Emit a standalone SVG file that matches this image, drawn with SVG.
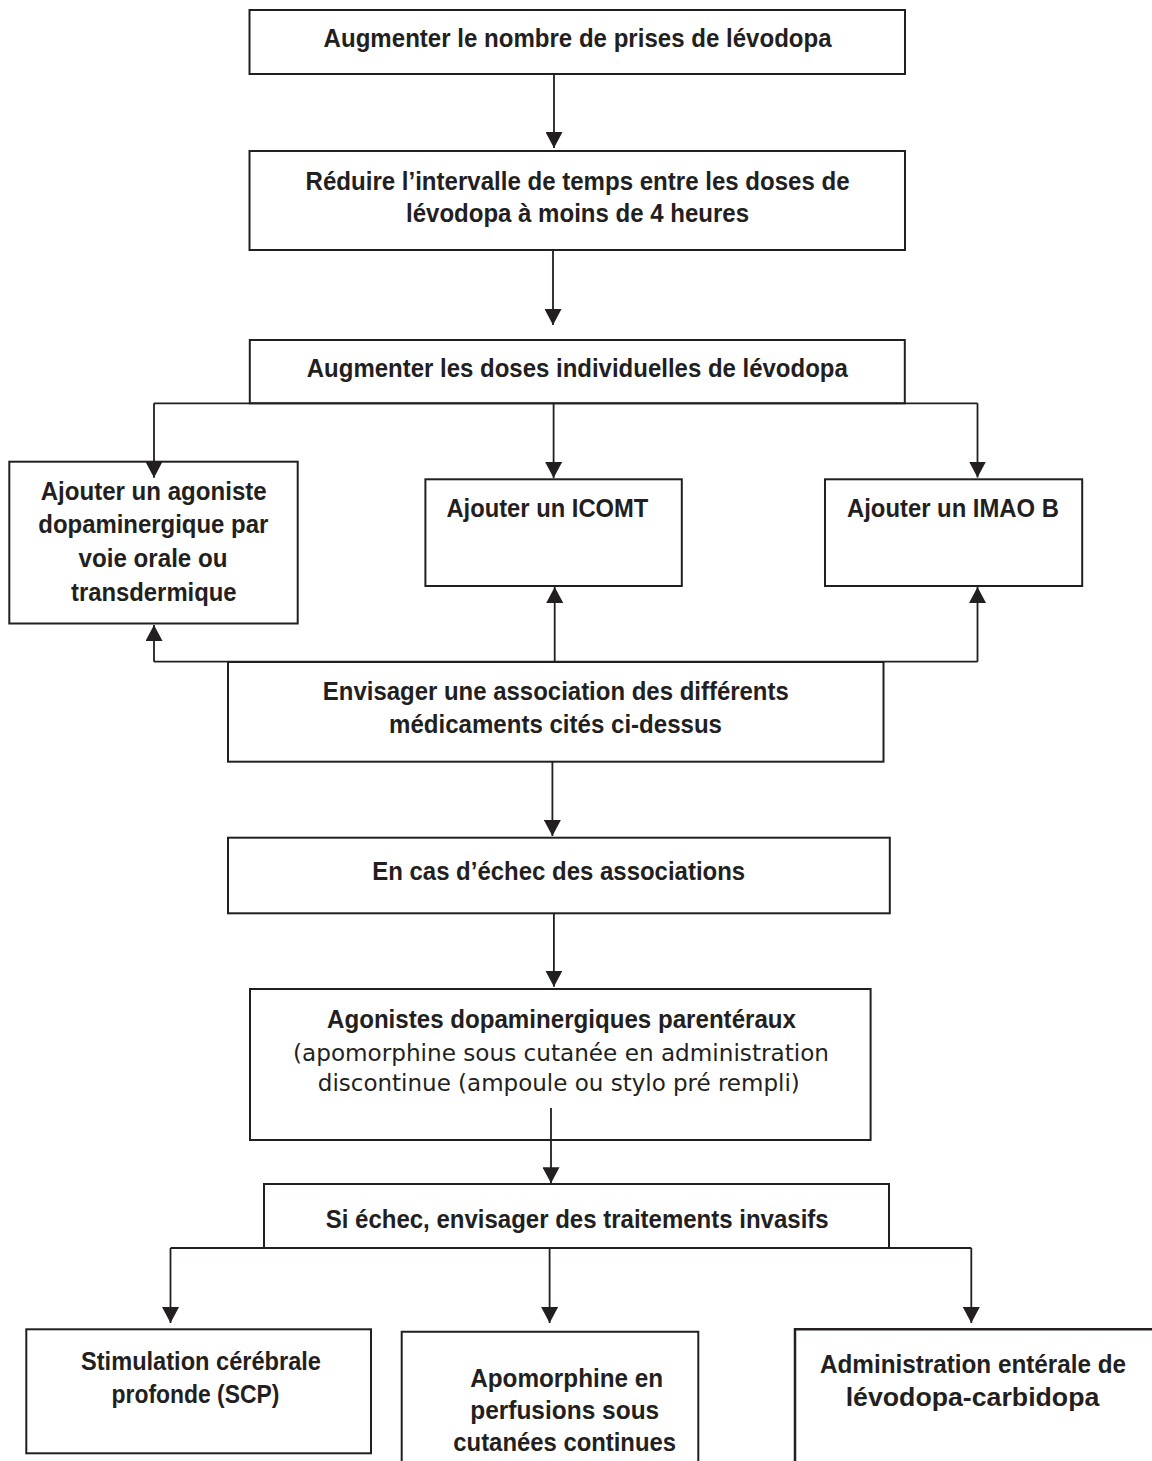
<svg xmlns="http://www.w3.org/2000/svg" width="1152" height="1461" viewBox="0 0 1152 1461">
<defs>
<style>
.box{fill:#fff;stroke:#231f20;stroke-width:2}
.open{fill:none;stroke:#231f20;stroke-width:2}
.ln{fill:none;stroke:#231f20;stroke-width:1.8}
.ar{fill:none;stroke:#231f20;stroke-width:1.8;marker-end:url(#ah)}
.t{font-family:"Liberation Sans Narrow","Liberation Sans",Arial,sans-serif;font-weight:bold;font-size:25px;fill:#231f20;text-anchor:middle}
.r{font-family:"DejaVu Sans Condensed","DejaVu Sans",Tahoma,sans-serif;font-weight:normal;font-size:23.5px;fill:#231f20;text-anchor:middle}
</style>
<marker id="ah" markerUnits="userSpaceOnUse" markerWidth="17" markerHeight="17" viewBox="0 0 17 17" refX="16" refY="8.5" orient="auto">
<path d="M0,0 L16,8.5 L0,17 Z" fill="#231f20"/>
</marker>
</defs>
<rect width="1152" height="1461" fill="#fff"/>

<g id="n1">
<rect class="box" x="249.5" y="10" width="655.5" height="64"/>
<text class="t" x="577.6" y="47" textLength="508" lengthAdjust="spacingAndGlyphs">Augmenter le nombre de prises de lévodopa</text>
</g>

<g id="n2">
<rect class="box" x="249.5" y="151" width="655.5" height="99"/>
<text class="t" x="577.6" y="190" textLength="544" lengthAdjust="spacingAndGlyphs">Réduire l’intervalle de temps entre les doses de</text>
<text class="t" x="577.5" y="221.7" textLength="343" lengthAdjust="spacingAndGlyphs">lévodopa à moins de 4 heures</text>
</g>

<g id="n3">
<rect class="box" x="249.8" y="340" width="655" height="63.3"/>
<text class="t" x="577.3" y="376.7" textLength="541" lengthAdjust="spacingAndGlyphs">Augmenter les doses individuelles de lévodopa</text>
</g>

<g id="n4">
<rect class="box" x="9.3" y="461.7" width="288.4" height="161.8"/>
<text class="t" x="153.7" y="500" textLength="226" lengthAdjust="spacingAndGlyphs">Ajouter un agoniste</text>
<text class="t" x="153.3" y="533.3" textLength="230" lengthAdjust="spacingAndGlyphs">dopaminergique par</text>
<text class="t" x="153" y="566.7" textLength="149" lengthAdjust="spacingAndGlyphs">voie orale ou</text>
<text class="t" x="153.8" y="600.7" textLength="165.7" lengthAdjust="spacingAndGlyphs">transdermique</text>
</g>

<g id="n5">
<rect class="box" x="425.4" y="479.3" width="256.4" height="106.7"/>
<text class="t" x="547.4" y="516.7" textLength="202" lengthAdjust="spacingAndGlyphs">Ajouter un ICOMT</text>
</g>

<g id="n6">
<rect class="box" x="825" y="479.3" width="257.2" height="106.7"/>
<text class="t" x="953" y="516.7" textLength="212" lengthAdjust="spacingAndGlyphs">Ajouter un IMAO B</text>
</g>

<g id="n7">
<rect class="box" x="228" y="662" width="655.5" height="99.7"/>
<text class="t" x="555.8" y="700" textLength="466" lengthAdjust="spacingAndGlyphs">Envisager une association des différents</text>
<text class="t" x="555.5" y="732.7" textLength="333" lengthAdjust="spacingAndGlyphs">médicaments cités ci-dessus</text>
</g>

<g id="n8">
<rect class="box" x="228" y="837.7" width="661.8" height="75.6"/>
<text class="t" x="558.7" y="880" textLength="373" lengthAdjust="spacingAndGlyphs">En cas d’échec des associations</text>
</g>

<g id="n9">
<rect class="box" x="250" y="989" width="620.6" height="151"/>
<text class="t" x="561.5" y="1027.7" textLength="469" lengthAdjust="spacingAndGlyphs">Agonistes dopaminergiques parentéraux</text>
<text class="r" x="561" y="1061" textLength="536" lengthAdjust="spacingAndGlyphs">(apomorphine sous cutanée en administration</text>
<text class="r" x="558.8" y="1091" textLength="482" lengthAdjust="spacingAndGlyphs">discontinue (ampoule ou stylo pré rempli)</text>
</g>

<g id="n10">
<rect class="box" x="264" y="1184" width="625" height="64"/>
<text class="t" x="577.2" y="1228.3" textLength="503" lengthAdjust="spacingAndGlyphs">Si échec, envisager des traitements invasifs</text>
</g>

<g id="n11">
<rect class="box" x="26.3" y="1329.3" width="344.7" height="124"/>
<text class="t" x="201" y="1370" textLength="240" lengthAdjust="spacingAndGlyphs">Stimulation cérébrale</text>
<text class="t" x="195.5" y="1402.7" textLength="168" lengthAdjust="spacingAndGlyphs">profonde (SCP)</text>
</g>

<g id="n12">
<path class="open" d="M401.7,1461 V1331.7 H698.3 V1461"/>
<text class="t" x="566.7" y="1386.7" textLength="193" lengthAdjust="spacingAndGlyphs">Apomorphine en</text>
<text class="t" x="564.7" y="1419" textLength="189" lengthAdjust="spacingAndGlyphs">perfusions sous</text>
<text class="t" x="564.7" y="1451" textLength="222.7" lengthAdjust="spacingAndGlyphs">cutanées continues</text>
</g>

<g id="n13">
<path class="open" d="M795,1461 V1329.3 H1152" style="stroke-width:2.5"/>
<text class="t" x="973" y="1373.3" textLength="306" lengthAdjust="spacingAndGlyphs">Administration entérale de</text>
<text class="t" x="972.5" y="1406" textLength="253.7" lengthAdjust="spacingAndGlyphs">lévodopa-carbidopa</text>
</g>

<g id="connectors">
<path class="ar" d="M554,74 V148"/>
<path class="ar" d="M553,250 V325"/>
<path class="ln" d="M154,403.3 H977.5"/>
<path class="ar" d="M154,403.3 V477.7"/>
<path class="ar" d="M553.6,403.3 V478"/>
<path class="ar" d="M977.5,403.3 V477.5"/>
<path class="ln" d="M154,661.7 H977.5"/>
<path class="ar" d="M154,661.7 V625"/>
<path class="ar" d="M554.7,661.7 V587"/>
<path class="ar" d="M977.5,661.7 V587"/>
<path class="ar" d="M552.4,761.7 V836"/>
<path class="ar" d="M553.9,913.3 V986.7"/>
<path class="ar" d="M551,1108 V1183.3"/>
<path class="ln" d="M170.5,1248 H971.3"/>
<path class="ar" d="M170.5,1248 V1323"/>
<path class="ar" d="M549.6,1248 V1323"/>
<path class="ar" d="M971.3,1248 V1323"/>
</g>
</svg>
